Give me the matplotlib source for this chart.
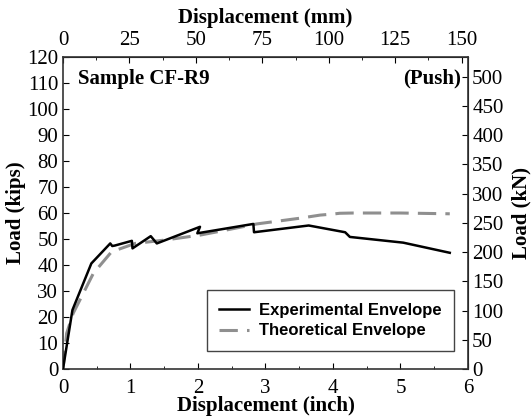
import matplotlib
matplotlib.use("Agg")
import matplotlib.pyplot as plt
import numpy as np

# experimental envelope (inch, kips)
exp_disp = [0.0, 0.14, 0.42, 0.70, 0.73, 0.77, 1.02, 1.03, 1.30, 1.39, 2.03, 1.99,
            2.82, 2.83, 3.64, 4.18, 4.25, 5.04, 5.73]
exp_load = [0.0, 22.7, 40.6, 48.3, 47.3, 47.5, 49.3, 46.4, 51.1, 48.3, 54.7, 52.2,
            55.8, 52.6, 55.2, 52.6, 50.8, 48.6, 44.7]

# theoretical envelope (inch, kips)
th_disp = [0.0, 0.054, 0.15, 0.45, 0.72, 1.07, 1.51, 2.03, 2.33, 2.87, 3.51, 3.81, 4.0, 4.1, 4.3, 5.0, 5.73]
th_load = [0.0, 13.7, 21.4, 36.8, 45.1, 48.3, 49.6, 51.5, 53.0, 55.8, 58.0, 59.2, 59.6, 59.9, 60.0, 60.0, 59.7]

x_ticks = [0, 1, 2, 3, 4, 5, 6]
y_ticks = list(range(0, 121, 10))
mm_ticks = [0, 25, 50, 75, 100, 125, 150]
kn_ticks = list(range(0, 501, 50))

KN = 4.448
serif = "Liberation Serif"
fs = 15

fig = plt.figure(figsize=(5.32, 4.18), dpi=100)
ax = fig.add_axes([0.1184, 0.1172, 0.7613, 0.7464])

ax.plot(exp_disp, exp_load, color="black", lw=1.8, label="Experimental Envelope", zorder=3)
ax.plot(th_disp, th_load, color="#8f8f8f", lw=2.2, dashes=(6, 3), label="Theoretical Envelope", zorder=2)

ax.set_xlim(0, 6)
ax.set_ylim(0, 120)
ax.set_xticks(x_ticks)
ax.set_yticks(y_ticks)
ax.set_xticks(np.arange(0.5, 6, 1), minor=True)
ax.tick_params(direction="in", length=4, labelsize=fs, pad=3.5, top=False, right=False)
ax.tick_params(axis="x", pad=7)
ax.tick_params(which="minor", direction="in", length=2)
for lab in ax.get_xticklabels() + ax.get_yticklabels():
    lab.set_fontfamily(serif)

for s in ax.spines.values():
    s.set_color("#333333")
    s.set_linewidth(1.2)

top = ax.secondary_xaxis("top", functions=(lambda x: x * 25.4, lambda x: x / 25.4))
top.set_xticks(mm_ticks)
top.set_xticks(np.arange(12.5, 150, 25), minor=True)
top.tick_params(direction="in", length=4, labelsize=fs, pad=5)
top.tick_params(which="minor", direction="in", length=2)
for lab in top.get_xticklabels():
    lab.set_fontfamily(serif)
top.set_xlabel("Displacement (mm)", fontsize=fs, fontweight="bold", fontfamily=serif, labelpad=6)

right = ax.secondary_yaxis("right", functions=(lambda y: y * KN, lambda y: y / KN))
right.set_yticks(kn_ticks)
right.tick_params(direction="in", length=4, labelsize=fs, pad=3)
for lab in right.get_yticklabels():
    lab.set_fontfamily(serif)
right.set_ylabel("Load (kN)", fontsize=fs, fontweight="bold", fontfamily=serif, labelpad=6)

ax.set_xlabel("Displacement (inch)", fontsize=fs, fontweight="bold", fontfamily=serif, labelpad=-1)
ax.set_ylabel("Load (kips)", fontsize=fs, fontweight="bold", fontfamily=serif, labelpad=1)

ax.text(0.037, 0.93, "Sample CF-R9", transform=ax.transAxes, fontsize=fs,
        fontweight="bold", fontfamily=serif, va="center", ha="left")
ax.text(0.982, 0.93, "(Push)", transform=ax.transAxes, fontsize=fs,
        fontweight="bold", fontfamily=serif, va="center", ha="right")

leg = ax.legend(loc="lower right", bbox_to_anchor=(0.966, 0.058), borderaxespad=0,
                fancybox=False, edgecolor="#444444", framealpha=1, handlelength=1.8,
                handletextpad=0.6, borderpad=0.75, labelspacing=0.35,
                prop={"family": "Liberation Sans", "weight": "bold", "size": 12})
leg.get_frame().set_linewidth(1.0)

fig.savefig("out.png", dpi=100)
